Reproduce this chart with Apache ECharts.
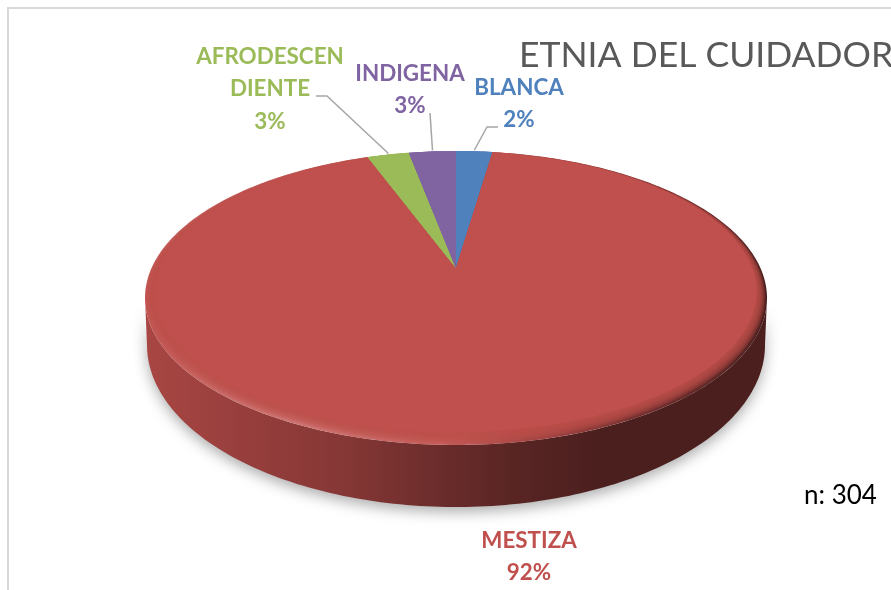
<!DOCTYPE html>
<html>
<head>
<meta charset="utf-8">
<style>html,body{margin:0;padding:0;background:#fff;overflow:hidden}#c{width:891px;height:590px}</style>
<script src="https://cdn.jsdelivr.net/npm/echarts@6/dist/echarts.min.js"></script>
</head>
<body>
<div id="c"></div>
<script>
// Data (counts out of n = 304), clockwise from the top
var categories = ['BLANCA', 'MESTIZA', 'AFRODESCEN\nDIENTE', 'INDIGENA'];
var counts = [7, 280, 8, 9];
var colors = ['#4F81BD', '#C0504D', '#9BBB59', '#8064A2'];
var chartTitle = 'ETNIA DEL CUIDADOR';
var noteText = 'n: 304';

// Layout only
var FONT = 'Lato, "Open Sans", sans-serif';
var cx = 456, apexY = 268;
var topFace = {top: 151, bottom: 445, rx: 311, apex: apexY};
var baseRim = {top: 183, bottom: 507, rx: 309, apex: 312};
var labelPos = [
  {x: 519, y: 104, leader: [[498, 127], [487, 127]]},
  {x: 529, y: 557},
  {x: 270, y: 89, leader: [[316, 96], [327, 96]]},
  {x: 410, y: 90, leader: [[430, 113]]}
];

var total = counts.reduce(function (a, b) { return a + b; }, 0);

function projector(e) {
  var a = e.apex - e.top, b = e.bottom - e.apex;
  var k = (b - a) / (a + b), H = a * (1 + k), R = e.rx * Math.sqrt(1 - k * k);
  return function (deg) {
    var t = deg * Math.PI / 180, s = Math.sin(t), c = Math.cos(t), w = 1 + k * c;
    return [cx + R * s / w, e.apex - H * c / w];
  };
}
function arc(p, from, to) {
  var pts = [], n = Math.max(2, Math.ceil(Math.abs(to - from)));
  for (var i = 0; i <= n; i++) pts.push(p(from + (to - from) * i / n));
  return pts;
}
function hgrad(stops) {
  return {type: 'linear', global: true, x: 145, y: 0, x2: 766, y2: 0,
    colorStops: stops.map(function (s) { return {offset: s[0], color: s[1]}; })};
}
// level > 0 darkens, level < 0 lightens
function shade(hex, level) {
  var n = parseInt(hex.slice(1), 16), rgb = [n >> 16, (n >> 8) & 255, n & 255];
  return 'rgb(' + rgb.map(function (c) {
    return Math.round(level > 0 ? c * (1 - level) : c + (255 - c) * -level);
  }).join(',') + ')';
}

function renderItem(params, api) {
  var i = params.dataIndex, color = colors[i];
  var before = 0;
  for (var j = 0; j < i; j++) before += counts[j];
  var a0 = before / total * 360, a1 = (before + api.value(0)) / total * 360, mid = (a0 + a1) / 2;
  var pTop = projector(topFace), pBase = projector(baseRim);
  var children = [];

  // Front wall: only the part of the rim that faces the viewer
  var a = (topFace.apex - topFace.top), b = (topFace.bottom - topFace.apex);
  var k = (b - a) / (a + b);
  var ext = Math.acos(-k) * 180 / Math.PI;
  var f0 = Math.max(a0, ext), f1 = Math.min(a1, 360 - ext);
  if (f1 > f0) {
    var wall = arc(pTop, f0, f1).concat(arc(pBase, f1, f0));
    children.push({type: 'polygon', shape: {points: wall}, style: {
      fill: hgrad([
        [0, shade(color, 0.125)], [0.17, shade(color, 0.22)], [0.33, shade(color, 0.31)],
        [0.49, shade(color, 0.46)], [0.6, shade(color, 0.54)], [0.73, shade(color, 0.61)], [1, shade(color, 0.61)]
      ]),
      shadowBlur: 14, shadowColor: 'rgba(0,0,0,0.32)', shadowOffsetY: 5
    }});
  }

  // Top face: rim bevel, softened by nested layers running inward
  function slice(e) { return [[cx, apexY]].concat(arc(projector(e), a0, a1)); }
  children.push({type: 'polygon', shape: {points: slice(topFace)}, style: {
    fill: hgrad([
      [0, shade(color, -0.02)], [0.09, shade(color, -0.13)], [0.25, shade(color, -0.2)], [0.48, shade(color, -0.06)],
      [0.65, shade(color, 0.16)], [0.82, shade(color, 0.42)], [1, shade(color, 0.6)]
    ])
  }});
  for (var d = 2; d <= 13; d += 1) {
    children.push({type: 'polygon', shape: {points: slice({
      top: topFace.top + 0.05 * d, bottom: topFace.bottom - d, rx: topFace.rx - d * 0.8, apex: apexY
    })}, style: {fill: color, opacity: d === 13 ? 1 : 0.2}});
  }
  // Back edge runs to the full rim
  if (a1 - a0 < 90) {
    children.push({type: 'polygon', shape: {points: slice(topFace)}, style: {fill: color}});
  }

  // Label
  var pos = labelPos[i];
  var pct = Math.round(api.value(0) / total * 100) + '%';
  children.push({type: 'text', style: {
    text: categories[i] + '\n' + pct, x: pos.x, y: pos.y, align: 'center', verticalAlign: 'middle',
    font: 'bold 22.4px ' + FONT, lineHeight: 32.5, fill: color
  }, z2: 5});
  if (pos.leader) {
    var end = pTop(mid);
    children.push({type: 'polyline', shape: {points: pos.leader.concat([[end[0], end[1] - 1]])},
      style: {stroke: '#A6A6A6', lineWidth: 1.5, fill: null}, z2: 4});
  }
  return {type: 'group', children: children};
}

var chart = echarts.init(document.getElementById('c'), null, {renderer: 'canvas'});
chart.setOption({
  animation: false,
  backgroundColor: '#ffffff',
  title: {
    text: chartTitle, left: 514, top: 29,
    textStyle: {fontFamily: FONT, fontSize: 35.5, fontWeight: 'normal', color: '#595959', lineHeight: 44}
  },
  graphic: [
    {type: 'rect', silent: true, z: -1, shape: {x: 8, y: 8, width: 1000, height: 700},
      style: {fill: 'none', stroke: '#D9D9D9', lineWidth: 2}},
    {type: 'text', left: 804, top: 483, style: {text: noteText, font: '26px ' + FONT, fill: '#000000'}}
  ],
  series: [{
    type: 'custom',
    coordinateSystem: 'none',
    data: counts.map(function (v) { return [v]; }),
    renderItem: renderItem
  }]
});
</script>
</body>
</html>
